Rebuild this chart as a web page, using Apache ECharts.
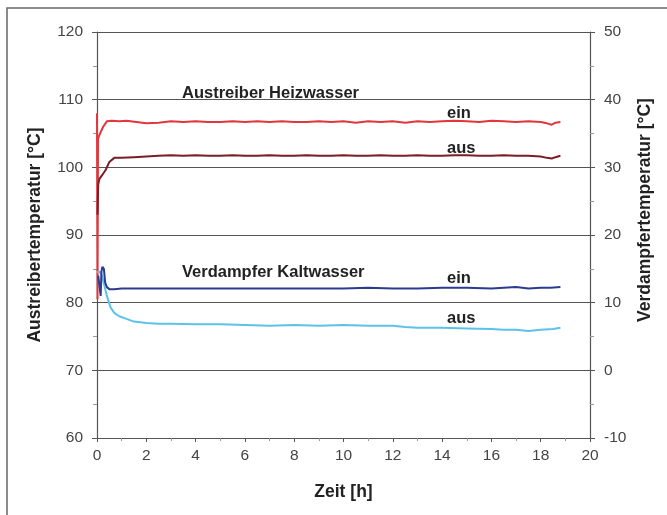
<!DOCTYPE html>
<html>
<head>
<meta charset="utf-8">
<script src="https://cdn.jsdelivr.net/npm/echarts@6/dist/echarts.min.js"></script>
<style>
html,body{margin:0;padding:0;background:#fff;}
#chart{width:667px;height:515px;}
</style>
</head>
<body>
<div id="chart"></div>
<script>
// ---- Data ----
const xTicks = [0, 2, 4, 6, 8, 10, 12, 14, 16, 18, 20];

// Austreiber Heizwasser ein (left axis, °C)
const tHeizEin = [0, 0.02, 0.04, 0.08, 0.15, 0.25, 0.4, 0.6, 0.9, 1.2, 1.6, 2.0, 2.5, 3.0, 3.5, 4.0, 4.5, 5.0, 5.5, 6.0, 6.5, 7.0, 7.5, 8.0, 8.5, 9.0, 9.5, 10.0, 10.5, 11.0, 11.5, 12.0, 12.5, 13.0, 13.5, 14.0, 14.5, 15.0, 15.5, 16.0, 16.5, 17.0, 17.5, 18.0, 18.25, 18.45, 18.6, 18.8];
const heizEin = [108.0, 80.5, 104.2, 104.6, 105.2, 106.0, 106.8, 106.9, 106.8, 106.9, 106.7, 106.5, 106.6, 106.8, 106.7, 106.8, 106.7, 106.7, 106.8, 106.7, 106.8, 106.7, 106.8, 106.7, 106.7, 106.8, 106.7, 106.8, 106.6, 106.8, 106.7, 106.8, 106.6, 106.8, 106.7, 106.8, 106.9, 106.8, 106.7, 106.9, 106.8, 106.7, 106.8, 106.7, 106.5, 106.3, 106.6, 106.7];

// Austreiber Heizwasser aus (left axis, °C)
const tHeizAus = [0.02, 0.05, 0.1, 0.2, 0.35, 0.5, 0.7, 1.0, 1.5, 2.0, 2.5, 3.0, 3.5, 4.0, 4.5, 5.0, 5.5, 6.0, 6.5, 7.0, 7.5, 8.0, 8.5, 9.0, 9.5, 10.0, 10.5, 11.0, 11.5, 12.0, 12.5, 13.0, 13.5, 14.0, 14.5, 15.0, 15.5, 16.0, 16.5, 17.0, 17.5, 18.0, 18.25, 18.45, 18.6, 18.8];
const heizAus = [93.0, 97.5, 98.3, 98.8, 99.6, 100.8, 101.4, 101.4, 101.5, 101.6, 101.7, 101.8, 101.7, 101.8, 101.7, 101.7, 101.8, 101.7, 101.7, 101.8, 101.7, 101.7, 101.8, 101.7, 101.7, 101.8, 101.7, 101.7, 101.8, 101.7, 101.7, 101.8, 101.7, 101.7, 101.8, 101.8, 101.7, 101.7, 101.8, 101.7, 101.7, 101.6, 101.4, 101.3, 101.5, 101.7];

// Verdampfer Kaltwasser ein (right axis, °C)
const tKaltEin = [0.05, 0.1, 0.15, 0.18, 0.22, 0.28, 0.33, 0.4, 0.5, 0.7, 1.0, 2.0, 3.0, 4.0, 5.0, 6.0, 7.0, 8.0, 9.0, 10.0, 11.0, 12.0, 13.0, 14.0, 15.0, 16.0, 16.5, 17.0, 17.5, 18.0, 18.4, 18.8];
const kaltEin = [14.0, 14.2, 11.0, 14.6, 15.3, 15.0, 13.0, 12.3, 12.0, 12.0, 12.1, 12.1, 12.1, 12.1, 12.1, 12.1, 12.1, 12.1, 12.1, 12.1, 12.2, 12.1, 12.1, 12.2, 12.2, 12.1, 12.2, 12.3, 12.1, 12.2, 12.2, 12.3];

// Verdampfer Kaltwasser aus (right axis, °C)
const tKaltAus = [0.0, 0.1, 0.2, 0.3, 0.4, 0.55, 0.7, 0.9, 1.2, 1.5, 2.0, 2.5, 3.0, 4.0, 5.0, 6.0, 7.0, 8.0, 9.0, 10.0, 11.0, 12.0, 12.5, 13.0, 14.0, 15.0, 16.0, 16.5, 17.0, 17.5, 18.0, 18.5, 18.8];
const kaltAus = [14.5, 14.6, 14.0, 12.5, 11.0, 9.3, 8.5, 8.0, 7.6, 7.2, 7.0, 6.9, 6.9, 6.8, 6.8, 6.7, 6.6, 6.7, 6.6, 6.7, 6.6, 6.6, 6.4, 6.3, 6.3, 6.2, 6.1, 6.0, 6.0, 5.8, 6.0, 6.1, 6.3];

const zip = (t, v) => t.map((x, i) => [x, v[i]]);

const axisColor = '#555';
const labelColor = '#444';
const fontFam = '"Liberation Sans", Arial, sans-serif';
const annFont = {fontFamily: fontFam, fontWeight: 'bold', fontSize: 16.5, fill: '#222', textVerticalAlign: 'middle'};

const chart = echarts.init(document.getElementById('chart'), null, {renderer: 'canvas'});
chart.setOption({
  animation: false,
  backgroundColor: '#fff',
  grid: {left: 97, right: 77, top: 32, bottom: 77, containLabel: false},
  xAxis: {
    type: 'value', min: 0, max: 20, interval: 2,
    name: 'Zeit [h]', nameLocation: 'middle', nameGap: 45,
    nameTextStyle: {fontFamily: fontFam, fontWeight: 'bold', fontSize: 17.5, color: '#222'},
    axisLine: {show: true, onZero: false, lineStyle: {color: axisColor, width: 1.2}},
    axisTick: {show: true, length: 4, inside: false, lineStyle: {color: axisColor}},
    minorTick: {show: true, splitNumber: 2, length: 3, lineStyle: {color: '#999'}},
    axisLabel: {fontFamily: fontFam, fontSize: 15.5, color: labelColor, margin: 10,
      formatter: v => xTicks.includes(v) ? String(v) : ''},
    splitLine: {show: false}
  },
  yAxis: [
    {
      type: 'value', min: 60, max: 120, interval: 10,
      name: 'Austreibertemperatur [°C]', nameLocation: 'middle', nameGap: 53,
      nameTextStyle: {fontFamily: fontFam, fontWeight: 'bold', fontSize: 17.5, color: '#222'},
      axisLine: {show: true, onZero: false, lineStyle: {color: axisColor, width: 1.2}},
      axisTick: {show: true, length: 5, lineStyle: {color: axisColor}},
      minorTick: {show: true, splitNumber: 2, length: 4, lineStyle: {color: '#999'}},
      axisLabel: {fontFamily: fontFam, fontSize: 15.5, color: labelColor, margin: 14},
      splitLine: {show: true, lineStyle: {color: axisColor, width: 1.2}}
    },
    {
      type: 'value', min: -10, max: 50, interval: 10, position: 'right',
      axisLine: {show: true, onZero: false, lineStyle: {color: axisColor, width: 1.2}},
      axisTick: {show: true, length: 5, lineStyle: {color: axisColor}},
      minorTick: {show: true, splitNumber: 2, length: 4, lineStyle: {color: '#999'}},
      axisLabel: {fontFamily: fontFam, fontSize: 15.5, color: labelColor, margin: 14},
      splitLine: {show: false}
    }
  ],
  series: [
    {name: 'Heizwasser ein', type: 'line', yAxisIndex: 0, showSymbol: false,
      lineStyle: {color: '#e0363c', width: 2}, data: zip(tHeizEin, heizEin)},
    {name: 'Heizwasser aus', type: 'line', yAxisIndex: 0, showSymbol: false,
      lineStyle: {color: '#7a1e26', width: 2}, data: zip(tHeizAus, heizAus)},
    {name: 'Kaltwasser aus', type: 'line', yAxisIndex: 1, showSymbol: false,
      lineStyle: {color: '#5cc2ea', width: 2}, data: zip(tKaltAus, kaltAus)},
    {name: 'Kaltwasser ein', type: 'line', yAxisIndex: 1, showSymbol: false,
      lineStyle: {color: '#2d3b8e', width: 2}, data: zip(tKaltEin, kaltEin)}
  ],
  graphic: [
    {type: 'rect', x: 7, y: 8, z: 100, silent: true,
      shape: {x: 0, y: 0, width: 720, height: 620}, style: {fill: 'none', stroke: '#666', lineWidth: 1.5}},
    {type: 'text', x: 182, y: 93, z: 50, style: Object.assign({text: 'Austreiber Heizwasser'}, annFont)},
    {type: 'text', x: 447, y: 113, z: 50, style: Object.assign({text: 'ein'}, annFont)},
    {type: 'text', x: 447, y: 148, z: 50, style: Object.assign({text: 'aus'}, annFont)},
    {type: 'text', x: 182, y: 272, z: 50, style: Object.assign({text: 'Verdampfer Kaltwasser'}, annFont)},
    {type: 'text', x: 447, y: 278, z: 50, style: Object.assign({text: 'ein'}, annFont)},
    {type: 'text', x: 447, y: 318, z: 50, style: Object.assign({text: 'aus'}, annFont)},
    {type: 'text', x: 645, y: 210, rotation: Math.PI / 2, z: 50,
      style: {text: 'Verdampfertemperatur [°C]', fontFamily: fontFam, fontWeight: 'bold', fontSize: 17.5, fill: '#222', textAlign: 'center', textVerticalAlign: 'middle'}}
  ]
});
</script>
</body>
</html>
